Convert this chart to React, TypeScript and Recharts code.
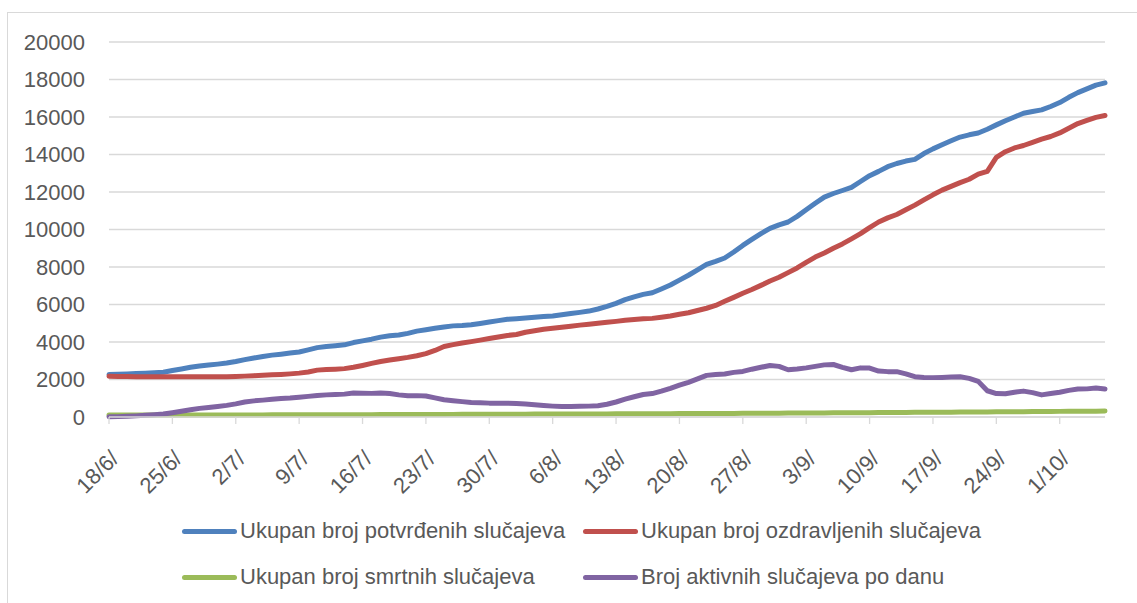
import React from 'react';
import { LineChart, Line, XAxis, YAxis, CartesianGrid } from 'recharts';

// Dates, 18/6 – 6/10
const dates = [
  '18/6', '19/6', '20/6', '21/6', '22/6', '23/6', '24/6', '25/6', '26/6', '27/6', '28/6', '29/6', '30/6',
  '1/7', '2/7', '3/7', '4/7', '5/7', '6/7', '7/7', '8/7', '9/7', '10/7', '11/7', '12/7', '13/7', '14/7', '15/7',
  '16/7', '17/7', '18/7', '19/7', '20/7', '21/7', '22/7', '23/7', '24/7', '25/7', '26/7', '27/7', '28/7', '29/7',
  '30/7', '31/7',
  '1/8', '2/8', '3/8', '4/8', '5/8', '6/8', '7/8', '8/8', '9/8', '10/8', '11/8', '12/8', '13/8', '14/8', '15/8',
  '16/8', '17/8', '18/8', '19/8', '20/8', '21/8', '22/8', '23/8', '24/8', '25/8', '26/8', '27/8', '28/8', '29/8',
  '30/8', '31/8',
  '1/9', '2/9', '3/9', '4/9', '5/9', '6/9', '7/9', '8/9', '9/9', '10/9', '11/9', '12/9', '13/9', '14/9', '15/9',
  '16/9', '17/9', '18/9', '19/9', '20/9', '21/9', '22/9', '23/9', '24/9', '25/9', '26/9', '27/9', '28/9', '29/9',
  '30/9',
  '1/10', '2/10', '3/10', '4/10', '5/10', '6/10',
];

const potvrdeni = [
  2270, 2280, 2300, 2320, 2340, 2360, 2390, 2480, 2560, 2650,
  2720, 2770, 2820, 2880, 2960, 3060, 3150, 3230, 3300, 3350,
  3410, 3470, 3580, 3700, 3760, 3800, 3850, 3970, 4060, 4150,
  4260, 4330, 4370, 4460, 4580, 4650, 4730, 4800, 4860, 4880,
  4920, 4990, 5070, 5140, 5210, 5240, 5280, 5320, 5360, 5390,
  5450, 5520, 5580, 5650, 5760, 5900, 6060, 6260, 6410, 6540,
  6630, 6830, 7040, 7300, 7560, 7850, 8140, 8300, 8480, 8800,
  9150, 9470, 9780, 10060, 10250, 10400, 10700, 11050, 11400, 11730,
  11920, 12080, 12250, 12560, 12870, 13100, 13350, 13520, 13650, 13740,
  14050, 14300, 14520, 14730, 14930, 15050, 15150, 15350, 15580, 15800,
  16000, 16200, 16290, 16380, 16560, 16770, 17050, 17300, 17500, 17700,
  17820,
];

const ozdravljeni = [
  2170, 2160, 2155, 2150, 2150, 2150, 2150, 2150, 2145, 2145,
  2145, 2145, 2150, 2150, 2160, 2180, 2200, 2230, 2250, 2270,
  2300, 2340, 2400, 2500, 2530, 2550, 2580, 2650, 2750, 2860,
  2960, 3040, 3110, 3180, 3270, 3380, 3550, 3760, 3860, 3950,
  4020, 4100, 4190, 4270, 4350, 4400, 4520, 4600, 4680, 4730,
  4790, 4840, 4900, 4950, 5000, 5050, 5100, 5160, 5200, 5240,
  5260, 5320, 5390, 5480, 5560, 5680, 5800, 5950, 6170, 6380,
  6600, 6800, 7020, 7250, 7450, 7700, 7950, 8250, 8530, 8750,
  9000, 9230, 9500, 9780, 10100, 10400, 10620, 10800, 11050, 11300,
  11580, 11850, 12100, 12300, 12500, 12680, 12950, 13100, 13850, 14150,
  14350, 14480, 14650, 14820, 14960, 15150, 15400, 15650, 15820, 15980,
  16080,
];

const smrtni = [
  107, 107, 107, 107, 108, 108, 108, 108, 109, 109,
  109, 110, 110, 111, 111, 112, 113, 113, 114, 115,
  116, 117, 118, 119, 120, 121, 122, 123, 125, 126,
  128, 130, 131, 133, 134, 135, 137, 138, 140, 141,
  143, 145, 146, 148, 150, 151, 153, 154, 156, 157,
  159, 160, 162, 163, 165, 166, 168, 170, 171, 173,
  175, 177, 179, 181, 183, 185, 187, 189, 191, 193,
  196, 198, 200, 203, 205, 208, 210, 213, 216, 218,
  221, 224, 227, 230, 232, 235, 238, 241, 244, 247,
  250, 253, 256, 259, 262, 265, 268, 271, 274, 277,
  280, 284, 288, 292, 296, 300, 303, 306, 309, 312,
  315,
];

const aktivni = [
  10, 20, 40, 60, 90, 120, 160, 230, 310, 390,
  460, 510, 560, 620, 700, 800, 860, 900, 950, 990,
  1010, 1050, 1100, 1150, 1180, 1200, 1220, 1280, 1270, 1260,
  1280, 1250, 1180, 1130, 1140, 1120, 1020, 920, 870, 820,
  770, 760, 740, 740, 740, 720, 690, 650, 610, 580,
  560, 560, 570, 580, 600, 680, 800, 950, 1080, 1200,
  1250, 1380, 1530, 1700, 1850, 2030, 2220, 2270, 2290, 2380,
  2430, 2550, 2650, 2750, 2700, 2520, 2560, 2620, 2700, 2780,
  2800, 2650, 2520, 2620, 2610, 2450, 2420, 2420, 2300, 2150,
  2110, 2100, 2110, 2130, 2150, 2060, 1900, 1400, 1250, 1240,
  1320, 1380, 1300, 1180, 1250, 1320, 1420, 1490, 1500, 1550,
  1490,
];

const yTicks = [0, 2000, 4000, 6000, 8000, 10000, 12000, 14000, 16000, 18000, 20000];

const series = [
  { key: 'potvrdeni', name: 'Ukupan broj potvrđenih slučajeva', color: '#4f81bd' },
  { key: 'ozdravljeni', name: 'Ukupan broj ozdravljenih slučajeva', color: '#c0504d' },
  { key: 'smrtni', name: 'Ukupan broj smrtnih slučajeva', color: '#9bbb59' },
  { key: 'aktivni', name: 'Broj aktivnih slučajeva po danu', color: '#8064a2' },
];

const data = dates.map((d, i) => ({
  date: d,
  potvrdeni: potvrdeni[i],
  ozdravljeni: ozdravljeni[i],
  smrtni: smrtni[i],
  aktivni: aktivni[i],
}));

const FONT = "'Liberation Sans', Arial, sans-serif";
const TEXT = '#595959';
const GRID = '#d9d9d9';

const legendPos = [
  { left: 182, top: 531 },
  { left: 583, top: 531 },
  { left: 182, top: 577 },
  { left: 583, top: 577 },
];

export default function App() {
  return (
    <div style={{ position: 'absolute', left: 0, top: 0, width: 1137, height: 603, background: '#fff', fontFamily: FONT, overflow: 'hidden' }}>
      <div style={{ position: 'absolute', left: 7, top: 12, width: 1130, height: 591, borderLeft: `1px solid ${GRID}`, borderTop: `1px solid ${GRID}` }} />
      <div style={{ position: 'absolute', left: 0, top: 0 }}>
        <LineChart width={1137} height={500} data={data} margin={{ top: 42, right: 32, bottom: 3, left: 9 }}>
          <CartesianGrid vertical={false} stroke={GRID} strokeWidth={1.3} />
          <XAxis
            dataKey="date"
            scale="point"
            padding={{ left: 0, right: 0 }}
            interval={6}
            height={80}
            tickSize={7}
            tickMargin={25}
            axisLine={{ stroke: GRID, strokeWidth: 1.3 }}
            tickLine={{ stroke: GRID, strokeWidth: 1.3 }}
            tickFormatter={(v: string) => v + '/'}
            tick={{ angle: -45, textAnchor: 'end', fill: TEXT, fontSize: 22, fontFamily: FONT }}
          />
          <YAxis
            width={100}
            domain={[0, 20000]}
            ticks={yTicks}
            axisLine={false}
            tickLine={false}
            tickSize={0}
            tickMargin={24}
            tick={{ fill: TEXT, fontSize: 22, fontFamily: FONT }}
          />
          {series.map((s) => (
            <Line
              key={s.key}
              dataKey={s.key}
              name={s.name}
              type="linear"
              stroke={s.color}
              strokeWidth={5}
              strokeLinecap="round"
              strokeLinejoin="round"
              dot={false}
              activeDot={false}
              isAnimationActive={false}
            />
          ))}
        </LineChart>
      </div>
      {series.map((s, i) => (
        <div
          key={s.key}
          style={{ position: 'absolute', left: legendPos[i].left, top: legendPos[i].top - 14, height: 28, display: 'flex', alignItems: 'center' }}
        >
          <div style={{ width: 55, height: 5, borderRadius: 3, background: s.color, marginRight: 3 }} />
          <span style={{ fontSize: 22, color: TEXT, whiteSpace: 'nowrap' }}>{s.name}</span>
        </div>
      ))}
    </div>
  );
}
